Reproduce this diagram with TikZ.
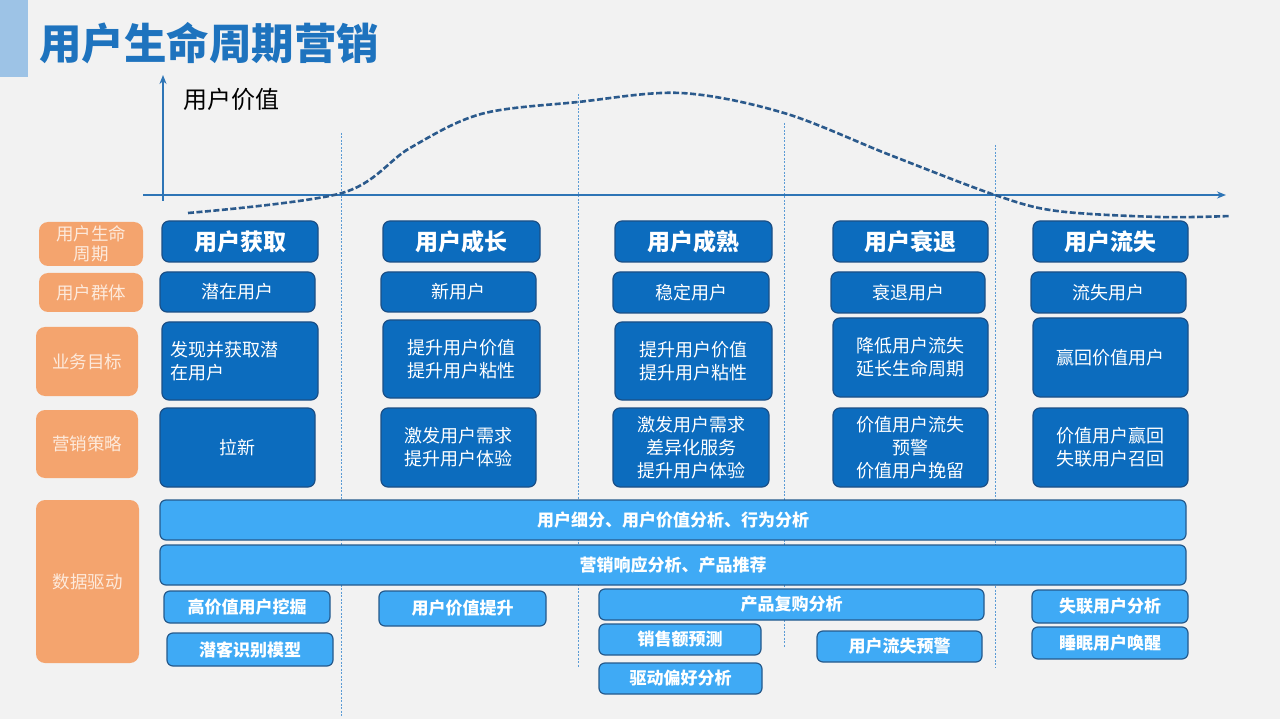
\documentclass[tikz,border=0pt]{standalone}
\usepackage{fontspec}
\setmainfont{Noto Sans CJK SC}
\usetikzlibrary{arrows.meta}
\definecolor{bg}{HTML}{F2F2F2}
\definecolor{titleblue}{HTML}{1E73BE}
\definecolor{tbar}{HTML}{9DC3E6}
\definecolor{axisc}{HTML}{2E75B6}
\definecolor{curvec}{HTML}{2B5A8C}
\definecolor{vl}{HTML}{5B9BD5}
\definecolor{dkf}{HTML}{0C6CBE}
\definecolor{dkb}{HTML}{1B4F86}
\definecolor{lbf}{HTML}{3FAAF5}
\definecolor{lbb}{HTML}{255A8C}
\definecolor{ogf}{HTML}{F4A46E}
\definecolor{ogt}{HTML}{FDEADC}
\newcommand\mybox[7]{\node[#1, minimum width={(#5-#3)*1pt}, minimum height={(#6-#4)*1pt}] (#2) at ({(#3+#5)/2},{(#4+#6)/2}) {#7};}
\tikzset{
 dk/.style={draw=dkb, line width=1.2pt, fill=dkf, rounded corners=7pt, text=white, inner sep=0pt, font=\fontsize{18}{23}\selectfont, align=center},
 hd/.style={dk, font=\fontsize{23}{26}\selectfont\bfseries},
 og/.style={fill=ogf, rounded corners=9pt, text=ogt, inner sep=0pt, font=\fontsize{17.5}{20}\selectfont, align=center},
 lb/.style={draw=lbb, line width=1.2pt, fill=lbf, rounded corners=6pt, text=white, inner sep=0pt, font=\fontsize{17}{20}\selectfont\bfseries},
 vline/.style={draw=vl, line width=0.8pt, dash pattern=on 2pt off 1.5pt},
 axisline/.style={draw=axisc, line width=1.8pt, -{Stealth[length=9pt,width=7pt]}},
}
\begin{document}
\begin{tikzpicture}[x=1pt,y=-1pt]
\fill[bg] (0,0) rectangle (1280,719);
\useasboundingbox (0,0) rectangle (1280,719);
% title
\fill[tbar] (0,0) rectangle (28,77);
\node[anchor=west, text=titleblue, font=\fontsize{42.5}{46}\selectfont\bfseries, inner sep=0pt] (title) at (39,43) {用户生命周期营销};
% vertical dotted lines
\coordinate (v1t) at (341,133); \coordinate (v1b) at (341,716);
\coordinate (v2t) at (578,94);  \coordinate (v2b) at (578,668);
\coordinate (v3t) at (784,123); \coordinate (v3b) at (784,647);
\coordinate (v4t) at (995,145); \coordinate (v4b) at (995,668);
\draw[vline] (v1t) -- (v1b);
\draw[vline] (v2t) -- (v2b);
\draw[vline] (v3t) -- (v3b);
\draw[vline] (v4t) -- (v4b);
% axes
\coordinate (yb) at (163,201); \coordinate (yt) at (163,75);
\coordinate (xl) at (143,195); \coordinate (xr) at (1226,195);
\draw[axisline] (yb) -- (yt);
\draw[axisline] (xl) -- (xr);
\node[anchor=west, font=\fontsize{24}{27}\selectfont, text=black, inner sep=0pt] (yl) at (183,99) {用户价值};
% curve
\draw[curvec, line width=2.6pt, dash pattern=on 6pt off 2.5pt] plot[smooth, tension=0.55] coordinates {(188,213) (342,193) (410,148) (481,114) (578,102) (681,93) (784,113) (890,155) (995,195) (1057,211) (1160,217) (1230,216)};
% orange labels
\mybox{og}{o1}{39}{222}{143}{266}{用户生命\\周期}
\mybox{og}{o2}{39}{273}{143}{312}{用户群体}
\mybox{og}{o3}{36}{327}{138}{396}{业务目标}
\mybox{og}{o4}{36}{410}{138}{478}{营销策略}
\mybox{og}{o5}{36}{500}{139}{663}{数据驱动}
% column 1
\mybox{hd}{h1}{162}{221}{318}{262}{用户获取}
\mybox{dk}{g1}{160}{272}{315}{312}{潜在用户}
\node[dk, minimum width=156pt, minimum height=78pt, align=left, text width=140pt] (b1) at (240,361) {发现并获取潜\\在用户};
\mybox{dk}{s1}{160}{408}{315}{487}{拉新}
% column 2
\mybox{hd}{h2}{383}{221}{540}{262}{用户成长}
\mybox{dk}{g2}{381}{272}{536}{312}{新用户}
\mybox{dk}{b2}{383}{320}{540}{398}{提升用户价值\\提升用户粘性}
\mybox{dk}{s2}{381}{408}{536}{487}{激发用户需求\\提升用户体验}
% column 3
\mybox{hd}{h3}{615}{221}{772}{262}{用户成熟}
\mybox{dk}{g3}{613}{272}{769}{313}{稳定用户}
\mybox{dk}{b3}{615}{322}{772}{400}{提升用户价值\\提升用户粘性}
\mybox{dk}{s3}{613}{408}{769}{487}{激发用户需求\\差异化服务\\提升用户体验}
% column 4
\mybox{hd}{h4}{833}{221}{988}{262}{用户衰退}
\mybox{dk}{g4}{831}{272}{985}{313}{衰退用户}
\mybox{dk}{b4}{833}{318}{988}{397}{降低用户流失\\延长生命周期}
\mybox{dk}{s4}{833}{408}{988}{487}{价值用户流失\\预警\\价值用户挽留}
% column 5
\mybox{hd}{h5}{1033}{221}{1188}{262}{用户流失}
\mybox{dk}{g5}{1031}{272}{1186}{313}{流失用户}
\mybox{dk}{b5}{1033}{318}{1188}{397}{赢回价值用户}
\mybox{dk}{s5}{1033}{408}{1188}{487}{价值用户赢回\\失联用户召回}
% data bars
\mybox{lb}{bar1}{160}{500}{1186}{540}{用户细分、用户价值分析、行为分析}
\mybox{lb}{bar2}{160}{545}{1186}{585}{营销响应分析、产品推荐}
\mybox{lb}{d1}{164}{591}{330}{623}{高价值用户挖掘}
\mybox{lb}{d2}{167}{633}{333}{666}{潜客识别模型}
\mybox{lb}{d3}{379}{591}{546}{626}{用户价值提升}
\mybox{lb}{d4}{599}{589}{984}{620}{产品复购分析}
\mybox{lb}{d5}{599}{624}{761}{655}{销售额预测}
\mybox{lb}{d6}{599}{663}{762}{694}{驱动偏好分析}
\mybox{lb}{d7}{817}{631}{982}{662}{用户流失预警}
\mybox{lb}{d8}{1032}{590}{1188}{623}{失联用户分析}
\mybox{lb}{d9}{1032}{627}{1188}{659}{睡眠用户唤醒}
\end{tikzpicture}
\end{document}
